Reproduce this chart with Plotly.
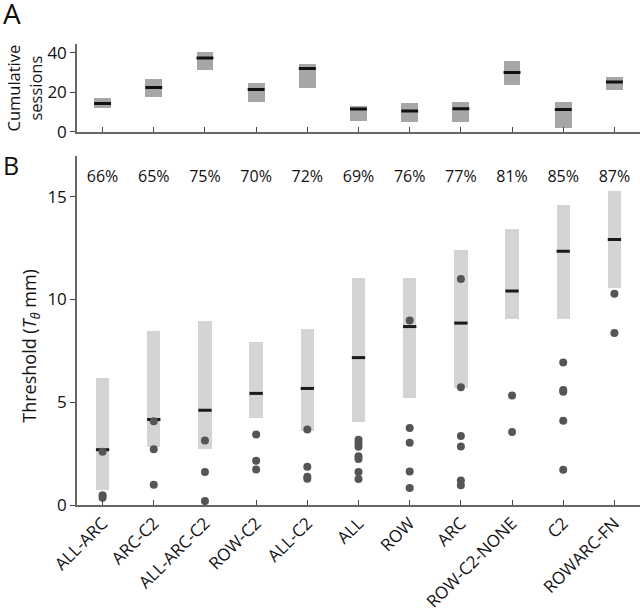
import plotly.graph_objects as go

categories = ["ALL-ARC", "ARC-C2", "ALL-ARC-C2", "ROW-C2", "ALL-C2", "ALL",
              "ROW", "ARC", "ROW-C2-NONE", "C2", "ROWARC-FN"]

# Panel A: cumulative sessions (box low / high / median)
sess_low = [12.1, 17.7, 31.0, 15.1, 22.3, 5.5, 4.7, 4.8, 23.8, 1.8, 20.9]
sess_high = [16.9, 26.6, 40.2, 24.8, 34.2, 13.2, 14.7, 15.2, 35.7, 14.9, 27.8]
sess_median = [14.2, 22.4, 37.3, 21.3, 32.0, 11.4, 10.4, 11.6, 30.0, 11.2, 25.1]

# Panel B: threshold ranges (low / high / median)
thr_low = [0.75, 2.83, 2.74, 4.27, 3.63, 4.05, 5.25, 5.73, 9.09, 9.09, 10.57]
thr_high = [6.21, 8.50, 8.97, 7.93, 8.60, 11.05, 11.05, 12.41, 13.46, 14.62, 15.32]
thr_median = [2.69, 4.16, 4.61, 5.43, 5.67, 7.17, 8.68, 8.85, 10.41, 12.34, 12.92]

# individual thresholds (dots)
dots = [
    [2.59, 0.48, 0.35],
    [4.07, 2.71, 0.98],
    [3.14, 1.60, 0.19],
    [3.43, 2.15, 1.73],
    [3.67, 1.86, 1.38, 1.28],
    [3.17, 2.99, 2.83, 2.37, 2.24, 1.60, 1.26],
    [8.98, 3.75, 3.03, 1.63, 0.83],
    [11.00, 5.73, 3.36, 2.85, 1.19, 0.96],
    [5.33, 3.55],
    [6.93, 5.60, 5.51, 4.10, 1.71],
    [10.28, 8.37],
]

percent_labels = ["66%", "65%", "75%", "70%", "72%", "69%", "76%", "77%", "81%", "85%", "87%"]
percent_y = 15.9

FONT = "Open Sans"
idx = list(range(len(categories)))

# figure geometry
W, H = 640, 612
ML, MR, MT, MB = 77, 0, 44, 102
PW, PH = W - ML - MR, H - MT - MB


def page_to_paper(px, py):
    return (px - ML) / PW, (H - MB - py) / PH


fig = go.Figure()

# ---- Panel A ----
fig.add_trace(go.Bar(
    x=idx, y=[h - l for h, l in zip(sess_high, sess_low)], base=sess_low,
    width=0.33, marker=dict(color="#a6a6a6", line=dict(width=0)),
    xaxis="x2", yaxis="y2", showlegend=False, hoverinfo="skip"))
mx, my = [], []
for i, m in zip(idx, sess_median):
    mx += [i - 0.165, i + 0.165, None]
    my += [m, m, None]
fig.add_trace(go.Scatter(x=mx, y=my, mode="lines", line=dict(color="#111111", width=3),
                         xaxis="x2", yaxis="y2", showlegend=False, hoverinfo="skip"))

# ---- Panel B ----
fig.add_trace(go.Bar(
    x=idx, y=[h - l for h, l in zip(thr_high, thr_low)], base=thr_low,
    width=0.26, marker=dict(color="#d4d4d4", line=dict(width=0)),
    xaxis="x", yaxis="y", showlegend=False, hoverinfo="skip"))
mx, my = [], []
for i, m in zip(idx, thr_median):
    mx += [i - 0.13, i + 0.13, None]
    my += [m, m, None]
fig.add_trace(go.Scatter(x=mx, y=my, mode="lines", line=dict(color="#1a1a1a", width=3),
                         xaxis="x", yaxis="y", showlegend=False, hoverinfo="skip"))
dx, dy = [], []
for i, vals in zip(idx, dots):
    for v in vals:
        dx.append(i)
        dy.append(v)
fig.add_trace(go.Scatter(x=dx, y=dy, mode="markers",
                         marker=dict(color="#555555", size=8, line=dict(width=0)),
                         xaxis="x", yaxis="y", showlegend=False, hoverinfo="skip"))
fig.add_trace(go.Scatter(x=idx, y=[percent_y] * len(idx), mode="text", text=percent_labels,
                         textfont=dict(family=FONT, size=16, color="#111111"),
                         cliponaxis=False,
                         xaxis="x", yaxis="y", showlegend=False, hoverinfo="skip"))

axis_line = dict(showline=True, linecolor="#666666", linewidth=1.5, showgrid=False,
                 zeroline=False, tickcolor="#444444", tickwidth=1.2)

ax_a = page_to_paper(11.5, 13)
ax_b = page_to_paper(10.5, 166)
ax_t1 = page_to_paper(24, 89)
ax_t2 = page_to_paper(31, 349)

fig.update_layout(
    width=W, height=H,
    margin=dict(l=ML, r=MR, t=MT, b=MB),
    paper_bgcolor="white", plot_bgcolor="white",
    font=dict(family=FONT, size=17, color="#111111"),
    bargap=0,
    xaxis=dict(domain=[0, 1], range=[-0.5, 10.5], tickmode="array", tickvals=idx,
               ticktext=categories, tickangle=-45, ticks="inside", ticklen=5,
               tickfont=dict(family=FONT, size=17), anchor="y", **axis_line),
    yaxis=dict(domain=[0, 0.758], range=[0, 17], tickmode="array", tickvals=[0, 5, 10, 15],
               ticks="outside", ticklen=5, tickfont=dict(family=FONT, size=17),
               anchor="x", **axis_line),
    xaxis2=dict(domain=[0, 1], range=[-0.5, 10.5], tickmode="array", tickvals=idx,
                showticklabels=False, ticks="inside", ticklen=5, anchor="y2", **axis_line),
    yaxis2=dict(domain=[0.81, 1], range=[0, 44.4], tickmode="array", tickvals=[0, 20, 40],
                ticks="outside", ticklen=5, tickfont=dict(family=FONT, size=17),
                anchor="x2", **axis_line),
    annotations=[
        dict(text="A", x=ax_a[0], y=ax_a[1], xref="paper", yref="paper", showarrow=False,
             xanchor="center", yanchor="middle", font=dict(family=FONT, size=28)),
        dict(text="B", x=ax_b[0], y=ax_b[1], xref="paper", yref="paper", showarrow=False,
             xanchor="center", yanchor="middle", font=dict(family=FONT, size=25)),
        dict(text="Cumulative<br>sessions", x=ax_t1[0], y=ax_t1[1], xref="paper",
             yref="paper", showarrow=False, textangle=-90, xanchor="center",
             yanchor="middle", font=dict(family=FONT, size=16.5)),
        dict(text="Threshold (<i>T</i><sub><i>θ</i></sub> mm)", x=ax_t2[0], y=ax_t2[1],
             xref="paper", yref="paper", showarrow=False, textangle=-90,
             xanchor="center", yanchor="middle", font=dict(family=FONT, size=18)),
    ],
)

# remove the default page margin so the figure sits at the window's top-left corner
fig.write_html("out.html", config={"displayModeBar": False},
               post_script="document.body.style.margin='0';")
